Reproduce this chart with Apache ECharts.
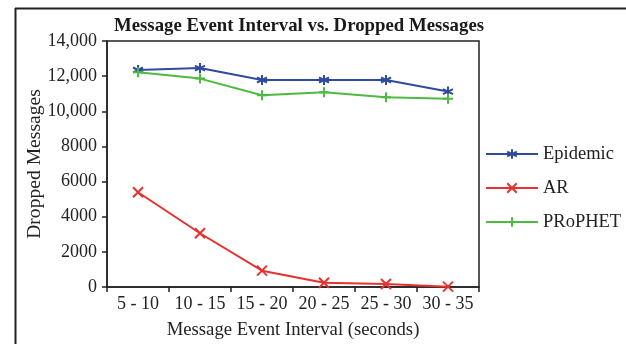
<!DOCTYPE html>
<html>
<head>
<meta charset="utf-8">
<script src="https://cdn.jsdelivr.net/npm/echarts@6/dist/echarts.min.js"></script>
<style>
  html, body { margin: 0; padding: 0; background: #fff; }
  #chart { width: 626px; height: 344px; }
</style>
</head>
<body>
<div id="chart"></div>
<script>
// Message event interval buckets (seconds)
const categories = ['5 - 10', '10 - 15', '15 - 20', '20 - 25', '25 - 30', '30 - 35'];

// Dropped messages per routing protocol
const epidemic = [12350, 12460, 11780, 11780, 11780, 11120];
const ar       = [5390, 3060, 930, 240, 170, 20];
const prophet  = [12220, 11860, 10910, 11080, 10800, 10720];

const FONT = '"Liberation Serif", "Times New Roman", serif';

// Stroke-only marker shapes
const SYM_STAR  = 'path://M5,0L5,10M0.7,2.5L9.3,7.5M0.7,7.5L9.3,2.5';
const SYM_CROSS = 'path://M0,0L10,10M10,0L0,10';
const SYM_PLUS  = 'path://M5,0L5,10M0,5L10,5';

function fmtY(v) {
  if (v >= 10000) return String(v).replace(/\B(?=(\d{3})+(?!\d))/g, ',');
  return String(v);
}

function lineSeries(name, data, color, symbol) {
  return {
    name: name,
    type: 'line',
    data: data,
    symbol: symbol,
    symbolSize: 10,
    showSymbol: true,
    lineStyle: { color: color, width: 2 },
    itemStyle: { color: color, borderColor: color, borderWidth: 2 },
    emphasis: { disabled: true },
    animation: false
  };
}

const chart = echarts.init(document.getElementById('chart'), null, { renderer: 'canvas' });
chart.setOption({
  backgroundColor: '#fff',
  animation: false,
  title: {
    text: 'Message Event Interval vs. Dropped Messages',
    left: 109,
    top: 12,
    textStyle: { fontFamily: FONT, fontSize: 18.8, fontWeight: 'bold', color: '#1a1a1a' }
  },
  grid: {
    left: 107, right: 147, top: 41, bottom: 57,
    containLabel: false,
    outerBoundsMode: 'none',
    show: true, borderColor: '#222', borderWidth: 1.5, backgroundColor: 'transparent'
  },
  legend: {
    orient: 'vertical',
    left: 480,
    top: 139,
    itemWidth: 52,
    itemHeight: 12,
    itemGap: 14,
    textStyle: { fontFamily: FONT, fontSize: 18.5, color: '#222', lineHeight: 20 },
    data: ['Epidemic', 'AR', 'PRoPHET']
  },
  xAxis: {
    type: 'category',
    data: categories,
    boundaryGap: true,
    name: 'Message Event Interval (seconds)',
    nameLocation: 'middle',
    nameGap: 34,
    nameMoveOverlap: false,
    nameTextStyle: { fontFamily: FONT, fontSize: 18.7, color: '#222' },
    axisLine: { lineStyle: { color: '#222', width: 1.5 } },
    axisTick: { show: true, length: 5, lineStyle: { color: '#222', width: 1.5 } },
    axisLabel: { fontFamily: FONT, fontSize: 18, color: '#222', margin: 8, interval: 0 },
    splitLine: { show: false }
  },
  yAxis: {
    type: 'value',
    min: 0, max: 14000, interval: 2000,
    name: 'Dropped Messages',
    nameLocation: 'middle',
    nameGap: 62,
    nameMoveOverlap: false,
    nameTextStyle: { fontFamily: FONT, fontSize: 19.6, color: '#222' },
    axisLine: { show: true, lineStyle: { color: '#222', width: 1.5 } },
    axisTick: { show: true, length: 5, lineStyle: { color: '#222', width: 1.5 } },
    axisLabel: { fontFamily: FONT, fontSize: 18, color: '#222', margin: 10, formatter: fmtY },
    splitLine: { show: false }
  },
  graphic: [
    { type: 'line', shape: { x1: 15, y1: 8.5, x2: 626, y2: 8.5 }, style: { stroke: '#222', lineWidth: 2 }, silent: true },
    { type: 'line', shape: { x1: 15.5, y1: 8, x2: 15.5, y2: 344 }, style: { stroke: '#222', lineWidth: 2 }, silent: true }
  ],
  series: [
    lineSeries('Epidemic', epidemic, '#2f4b9f', SYM_STAR),
    lineSeries('AR', ar, '#e8302f', SYM_CROSS),
    lineSeries('PRoPHET', prophet, '#4cbb3f', SYM_PLUS)
  ]
});
</script>
</body>
</html>
